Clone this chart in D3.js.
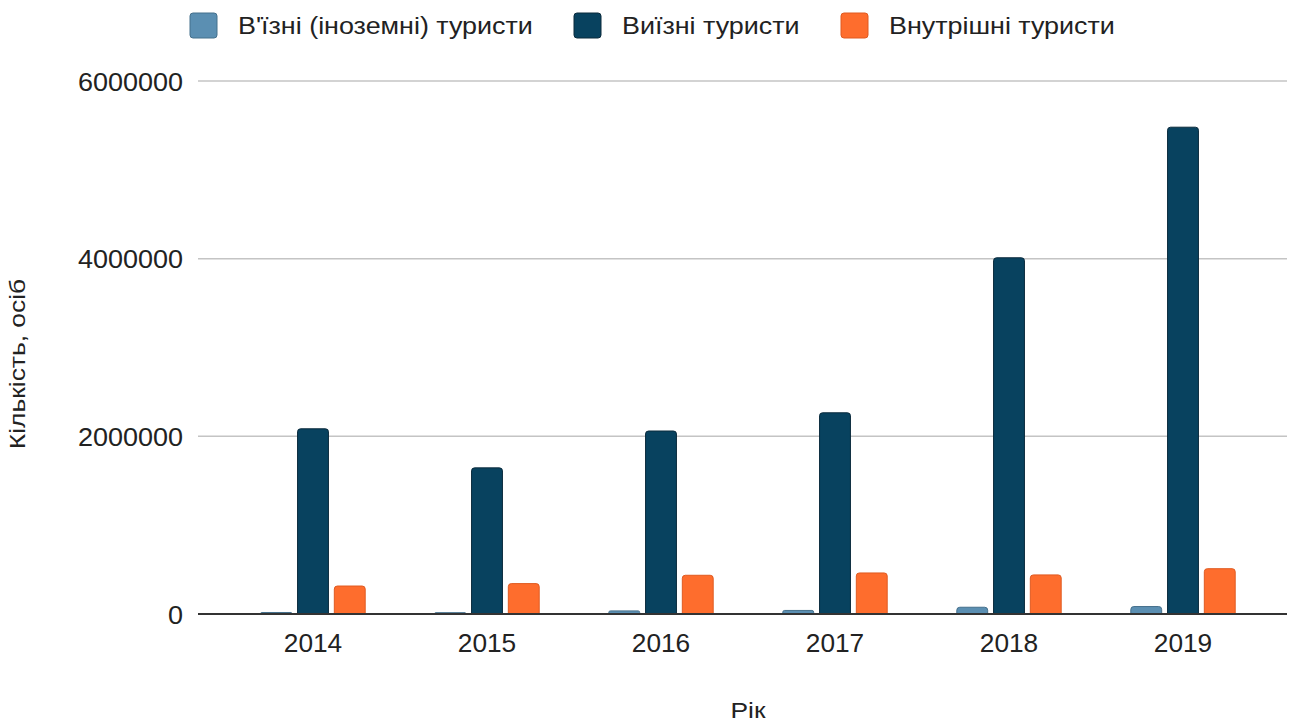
<!DOCTYPE html>
<html>
<head>
<meta charset="utf-8">
<script src="https://cdn.jsdelivr.net/npm/d3@7"></script>
<style>
  body { margin: 0; background: #fff; }
  text { font-family: "Liberation Sans", Arial, sans-serif; fill: #222; }
</style>
</head>
<body>
<div id="chart"></div>
<script>
// years on the x axis
var years = ['2014', '2015', '2016', '2017', '2018', '2019']
var seriesNames = ["В'їзні (іноземні) туристи", 'Виїзні туристи', 'Внутрішні туристи']

// values
var inbound  = [17000, 15000, 35000, 40000, 76000, 84000]
var outbound = [2085000, 1645000, 2060000, 2265000, 4010000, 5480000]
var domestic = [315000, 342000, 436000, 462000, 440000, 510000]

var yTicks = [0, 2000000, 4000000, 6000000]

var colors = ['#5b8fb2', '#08425f', '#fe6d2d']
var strokes = ['#45708c', '#0a2a3c', '#e05a20']

var w = 1291, h = 722

var svg = d3.select('#chart').append('svg')
  .attr('width', w).attr('height', h)

var y = d3.scaleLinear().domain([0, 6000000]).range([614, 81])
var x0 = d3.scaleBand().domain(years).range([226, 1270]).paddingInner(0.4).paddingOuter(0.2)
var x1 = d3.scaleBand().domain([0, 1, 2]).range([0, x0.bandwidth()]).paddingInner(0.16)

var rows = years.map(function (yr, i) {
  return { year: yr, vals: [inbound[i], outbound[i], domestic[i]] }
})

// bar with rounded top corners
function barPath(x, top, bw, bottom) {
  var r = Math.min(3, (bottom - top) / 2, bw / 2)
  return 'M' + x + ',' + bottom +
    'V' + (top + r) +
    'Q' + x + ',' + top + ' ' + (x + r) + ',' + top +
    'H' + (x + bw - r) +
    'Q' + (x + bw) + ',' + top + ' ' + (x + bw) + ',' + (top + r) +
    'V' + bottom + 'Z'
}

// grid
svg.append('g').selectAll('line').data(yTicks.filter(function (t) { return t > 0 }))
  .enter().append('line')
  .attr('x1', 198).attr('x2', 1287)
  .attr('y1', function (d) { return y(d) }).attr('y2', function (d) { return y(d) })
  .attr('stroke', '#c4c4c4').attr('stroke-width', 1.5)

// y axis labels
var yAxis = d3.axisLeft(y).tickValues(yTicks).tickSize(0).tickPadding(0)
  .tickFormat(function (d) { return String(d) })
var ya = svg.append('g').attr('transform', 'translate(183,0)').call(yAxis)
ya.select('.domain').remove()
ya.selectAll('text').style('font-size', '25px').attr('fill', '#222').attr('dy', '0.36em')
  .style('font-family', '"Liberation Sans", Arial, sans-serif')
  .attr('transform', 'scale(1.08,1)')

// bars
var groups = svg.append('g').selectAll('g').data(rows).enter().append('g')
  .attr('transform', function (d) { return 'translate(' + x0(d.year) + ',0)' })

groups.selectAll('path').data(function (d) { return d.vals.map(function (v, k) { return { k: k, v: v } }) })
  .enter().append('path')
  .attr('d', function (d) { return barPath(x1(d.k), y(d.v), x1.bandwidth(), y(0)) })
  .attr('fill', function (d) { return colors[d.k] })
  .attr('stroke', function (d) { return strokes[d.k] })
  .attr('stroke-width', 1)

// baseline
svg.append('line').attr('x1', 198).attr('x2', 1287).attr('y1', 614).attr('y2', 614)
  .attr('stroke', '#333').attr('stroke-width', 2)

// x axis labels
var xAxis = d3.axisBottom(x0).tickSize(0).tickPadding(0)
var xa = svg.append('g').attr('transform', 'translate(0,634)').call(xAxis)
xa.select('.domain').remove()
xa.selectAll('text').style('font-size', '25px').attr('fill', '#222').attr('dy', '0.72em')
  .style('font-family', '"Liberation Sans", Arial, sans-serif')
  .attr('transform', 'scale(1.05,1)')

// axis titles
svg.append('text').attr('transform', 'translate(748,718) scale(1.2,1)').attr('text-anchor', 'middle')
  .style('font-size', '22px').text('Рік')
svg.append('text').attr('transform', 'translate(25,364) rotate(-90) scale(1.2,1)').attr('text-anchor', 'middle')
  .style('font-size', '22px').text('Кількість, осіб')

// legend
var legX = [190, 574, 841]
var leg = svg.append('g').selectAll('g').data(seriesNames).enter().append('g')
  .attr('transform', function (d, i) { return 'translate(' + legX[i] + ',13)' })
leg.append('rect').attr('width', 27).attr('height', 25).attr('rx', 3)
  .attr('fill', function (d, i) { return colors[i] })
  .attr('stroke', function (d, i) { return strokes[i] }).attr('stroke-width', 1)
leg.append('text').attr('transform', 'translate(48,21) scale(1.17,1)')
  .style('font-size', '23px').text(function (d) { return d })
</script>
</body>
</html>
